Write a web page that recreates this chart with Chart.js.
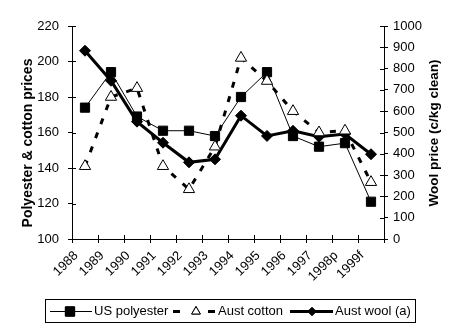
<!DOCTYPE html>
<html>
<head>
<meta charset="utf-8">
<script src="https://cdn.jsdelivr.net/npm/chart.js@4/dist/chart.umd.min.js"></script>
<style>
html,body{margin:0;padding:0;background:#fff;}
canvas{display:block;}
</style>
</head>
<body>
<canvas id="c" width="463" height="332"></canvas>
<script>
const categories = ['1988','1989','1990','1991','1992','1993','1994','1995','1996','1997','1998p','1999f'];
const usPolyester = [174,194,169,161,161,158,180,194,158,152,154,121];
const austCotton  = [141,180,185,141,128,152,202,189,172,160,161,132];
const austWool    = [884,743,551,452,360,374,579,484,508,480,493,398];
const leftTicks = [100,120,140,160,180,200,220];
const rightTicks = [0,100,200,300,400,500,600,700,800,900,1000];
const leftTitle = 'Polyester & cotton prices';
const rightTitle = 'Wool price (c/kg clean)';

const FONT = "'Liberation Sans', Arial, sans-serif";

const innerTicks = {
  id: 'innerTicks',
  afterDraw(chart) {
    const ctx = chart.ctx, ca = chart.chartArea;
    const x = chart.scales.x, y = chart.scales.y, y1 = chart.scales.y1;
    ctx.save();
    ctx.strokeStyle = '#000'; ctx.lineWidth = 1;
    ctx.beginPath();
    for (let i = 0; i <= categories.length; i++) {
      const px = Math.round(x.getPixelForValue(i - 0.5)) + 0.5;
      ctx.moveTo(px, ca.bottom); ctx.lineTo(px, ca.bottom - 4);
    }
    y.ticks.forEach(t => {
      const py = Math.round(y.getPixelForValue(t.value)) + 0.5;
      ctx.moveTo(ca.left, py); ctx.lineTo(ca.left + 4, py);
    });
    y1.ticks.forEach(t => {
      const py = Math.round(y1.getPixelForValue(t.value)) + 0.5;
      ctx.moveTo(ca.right, py); ctx.lineTo(ca.right - 4, py);
    });
    ctx.stroke();
    // axis titles (both read bottom-to-top)
    ctx.fillStyle = '#000';
    ctx.textAlign = 'center';
    ctx.textBaseline = 'middle';
    ctx.save();
    ctx.translate(28, 143); ctx.rotate(-Math.PI / 2);
    ctx.font = 'bold 14px ' + FONT;
    ctx.fillText(leftTitle, 0, 0);
    ctx.restore();
    ctx.save();
    ctx.translate(434, 133); ctx.rotate(-Math.PI / 2);
    ctx.font = 'bold 13.5px ' + FONT;
    ctx.fillText(rightTitle, 0, 0);
    ctx.restore();
    ctx.restore();
  }
};

const boxLegend = {
  id: 'boxLegend',
  afterDraw(chart) {
    const ctx = chart.ctx;
    const h = Chart.helpers;
    ctx.save();
    ctx.strokeStyle = '#000'; ctx.lineWidth = 1;
    ctx.strokeRect(45.5, 299.5, 370, 23);
    const cy = 311.5;
    ctx.font = '13px ' + FONT;
    ctx.fillStyle = '#000';
    ctx.textBaseline = 'middle';
    ctx.textAlign = 'left';
    const ds = chart.data.datasets;
    // US polyester
    ctx.beginPath(); ctx.lineWidth = ds[0].borderWidth;
    ctx.moveTo(50, cy); ctx.lineTo(92, cy); ctx.stroke();
    ctx.fillStyle = '#000';
    h.drawPoint(ctx, {pointStyle: ds[0].pointStyle, radius: ds[0].pointRadius, borderWidth: 1, rotation: 0}, 70, cy);
    ctx.fill(); ctx.stroke();
    ctx.fillStyle = '#000';
    ctx.fillText(ds[0].label, 94, cy);
    // Aust cotton
    ctx.lineWidth = ds[1].borderWidth;
    ctx.beginPath(); ctx.moveTo(173, cy); ctx.lineTo(180, cy); ctx.moveTo(208, cy); ctx.lineTo(215, cy); ctx.stroke();
    ctx.lineWidth = 1; ctx.fillStyle = '#fff';
    h.drawPoint(ctx, {pointStyle: ds[1].pointStyle, radius: 5, borderWidth: 1, rotation: 0}, 196, cy);
    ctx.fill(); ctx.stroke();
    ctx.fillStyle = '#000';
    ctx.fillText(ds[1].label, 218, cy);
    // Aust wool
    ctx.lineWidth = ds[2].borderWidth;
    ctx.beginPath(); ctx.moveTo(290, cy); ctx.lineTo(333, cy); ctx.stroke();
    ctx.lineWidth = 1; ctx.fillStyle = '#000';
    h.drawPoint(ctx, {pointStyle: ds[2].pointStyle, radius: 4, borderWidth: 1, rotation: 0}, 312, cy);
    ctx.fill(); ctx.stroke();
    ctx.fillText(ds[2].label, 335, cy);
    ctx.restore();
  }
};

new Chart(document.getElementById('c'), {
  type: 'line',
  data: {
    labels: categories,
    datasets: [
      { label: 'US polyester', data: usPolyester, yAxisID: 'y',
        borderColor: '#000', borderWidth: 1, pointStyle: 'rect', pointRadius: 6.5,
        pointBackgroundColor: '#000', pointBorderColor: '#000', pointBorderWidth: 1, tension: 0, order: 2 },
      { label: 'Aust cotton', data: austCotton, yAxisID: 'y',
        borderColor: '#000', borderWidth: 3, borderDash: [6, 9], pointStyle: 'triangle', pointRadius: 6.5,
        pointBackgroundColor: '#fff', pointBorderColor: '#000', pointBorderWidth: 1, tension: 0, order: 1 },
      { label: 'Aust wool (a)', data: austWool, yAxisID: 'y1',
        borderColor: '#000', borderWidth: 3, pointStyle: 'rectRot', pointRadius: 5.5,
        pointBackgroundColor: '#000', pointBorderColor: '#000', pointBorderWidth: 1, tension: 0, order: 3 }
    ]
  },
  options: {
    responsive: false,
    animation: false,
    devicePixelRatio: 1,
    layout: { padding: { top: 26, left: 0, right: 0, bottom: 0 } },
    plugins: { legend: { display: false }, tooltip: { enabled: false }, title: { display: false } },
    scales: {
      x: {
        type: 'category',
        offset: true,
        grid: { display: true, drawOnChartArea: false, offset: true, tickLength: 4, color: '#000' },
        border: { display: true, color: '#000', width: 1 },
        ticks: { color: '#000', font: { family: FONT, size: 13 }, minRotation: 45, maxRotation: 45,
                 autoSkip: false, padding: 5, labelOffset: -9 },
        afterFit: s => { s.height = 93; }
      },
      y: {
        position: 'left', min: 100, max: 220,
        afterBuildTicks: s => { s.ticks = leftTicks.map(v => ({ value: v })); },
        grid: { display: true, drawOnChartArea: false, tickLength: 4, color: '#000' },
        border: { display: true, color: '#000', width: 1 },
        ticks: { color: '#000', font: { family: FONT, size: 13 }, padding: 9, callback: v => String(v) },
        afterFit: s => { s.width = 72; }
      },
      y1: {
        position: 'right', min: 0, max: 1000,
        afterBuildTicks: s => { s.ticks = rightTicks.map(v => ({ value: v })); },
        grid: { display: true, drawOnChartArea: false, tickLength: 4, color: '#000' },
        border: { display: true, color: '#000', width: 1 },
        ticks: { color: '#000', font: { family: FONT, size: 13 }, padding: 5, callback: v => String(v) },
        afterFit: s => { s.width = 79; }
      }
    }
  },
  plugins: [innerTicks, boxLegend]
});
</script>
</body>
</html>
